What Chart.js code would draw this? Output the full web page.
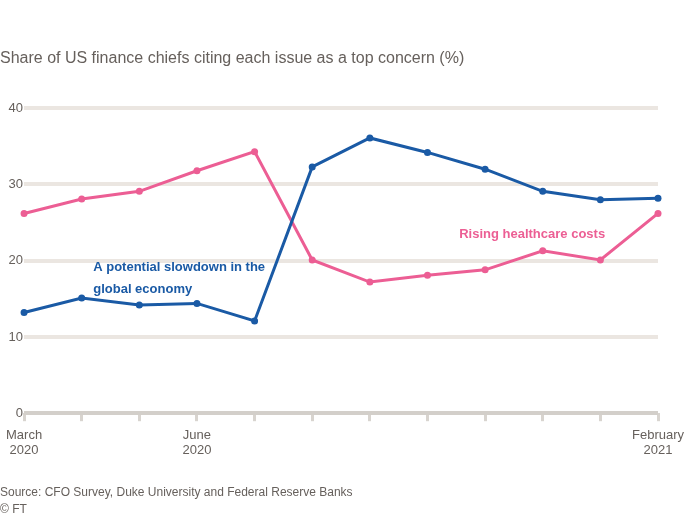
<!DOCTYPE html>
<html>
<head>
<meta charset="utf-8">
<script src="https://cdn.jsdelivr.net/npm/chart.js@4.4.1/dist/chart.umd.min.js"></script>
<style>
  html, body { margin: 0; padding: 0; background: #ffffff; }
  #wrap { width: 700px; height: 518px; }
</style>
</head>
<body>
<div id="wrap"><canvas id="c" width="700" height="518"></canvas></div>
<script>
// ---- data ----
const surveyDates = ['Mar 2020', 'Apr 2020', 'May 2020', 'Jun 2020', 'Jul 2020', 'Aug 2020',
                     'Sep 2020', 'Oct 2020', 'Nov 2020', 'Dec 2020', 'Jan 2021', 'Feb 2021'];
const tickLabels = [['March', '2020'], '', '', ['June', '2020'], '', '', '', '', '', '', '', ['February', '2021']];
const slowdownValues = [13.2, 15.1, 14.2, 14.4, 12.1, 32.3, 36.1, 34.2, 32.0, 29.1, 28.0, 28.2];
const healthcareValues = [26.2, 28.1, 29.1, 31.8, 34.3, 20.1, 17.2, 18.1, 18.8, 21.3, 20.1, 26.2];
const yTicks = [0, 10, 20, 30, 40];
const seriesNames = ['A potential slowdown in the global economy', 'Rising healthcare costs'];
const titleText = 'Share of US finance chiefs citing each issue as a top concern (%)';
const sourceText = ['Source: CFO Survey, Duke University and Federal Reserve Banks', '© FT'];

// ---- styles ----
const BLUE = '#1a5aa5';
const PINK = '#ec5e94';
const GREY = '#66605c';

const labelPlugin = {
  id: 'seriesLabels',
  afterDatasetsDraw(chart) {
    const { ctx, scales: { x, y } } = chart;
    const notes = [
      { lines: ['A potential slowdown in the', 'global economy'], color: BLUE, at: [1.2, 19.1] },
      { lines: ['Rising healthcare costs'], color: PINK, at: [7.55, 23.5] }
    ];
    ctx.save();
    ctx.font = 'bold 13px "Liberation Sans", Arial, sans-serif';
    ctx.textBaseline = 'middle';
    ctx.textAlign = 'left';
    notes.forEach(n => {
      const px = x.getPixelForValue(n.at[0]);
      const py = y.getPixelForValue(n.at[1]);
      ctx.fillStyle = n.color;
      n.lines.forEach((t, i) => ctx.fillText(t, px, py + i * 22));
    });
    ctx.restore();
  }
};

new Chart(document.getElementById('c'), {
  type: 'line',
  data: {
    labels: surveyDates,
    datasets: [
      {
        label: seriesNames[0],
        data: slowdownValues,
        borderColor: BLUE,
        backgroundColor: BLUE,
        borderWidth: 3,
        pointRadius: 3.5,
        pointBorderWidth: 0,
        tension: 0
      },
      {
        label: seriesNames[1],
        data: healthcareValues,
        borderColor: PINK,
        backgroundColor: PINK,
        borderWidth: 3,
        pointRadius: 3.5,
        pointBorderWidth: 0,
        tension: 0
      }
    ]
  },
  options: {
    responsive: false,
    animation: false,
    layout: { padding: { left: 0, right: 42, top: 0, bottom: 0 } },
    plugins: {
      legend: { display: false },
      tooltip: { enabled: false },
      title: {
        display: true,
        text: titleText,
        align: 'start',
        color: GREY,
        font: { family: '"Liberation Sans", Arial, sans-serif', size: 16, weight: 'normal' },
        padding: { top: 49, bottom: 40 }
      },
      subtitle: {
        display: true,
        position: 'bottom',
        text: sourceText,
        align: 'start',
        color: GREY,
        font: { family: '"Liberation Sans", Arial, sans-serif', size: 12, weight: 'normal', lineHeight: 1.4 },
        padding: { top: 20, bottom: 0 }
      }
    },
    scales: {
      x: {
        grid: {
          display: true,
          drawOnChartArea: false,
          drawTicks: true,
          tickLength: 8,
          tickWidth: 3,
          tickColor: '#d8d4cf'
        },
        border: { display: false },
        ticks: {
          autoSkip: false,
          maxRotation: 0,
          padding: 6,
          color: GREY,
          font: { family: '"Liberation Sans", Arial, sans-serif', size: 13 },
          callback: (v, i) => tickLabels[i]
        }
      },
      y: {
        min: 0,
        max: 40,
        afterBuildTicks: (scale) => { scale.ticks = yTicks.map(v => ({ value: v })); },
        grid: {
          drawTicks: false,
          lineWidth: 4,
          color: (c) => (c.tick && c.tick.value === 0) ? '#d3cfca' : '#ebe6e1'
        },
        border: { display: false },
        ticks: {
          padding: 1,
          color: GREY,
          font: { family: '"Liberation Sans", Arial, sans-serif', size: 13 }
        }
      }
    }
  },
  plugins: [labelPlugin]
});
</script>
</body>
</html>
